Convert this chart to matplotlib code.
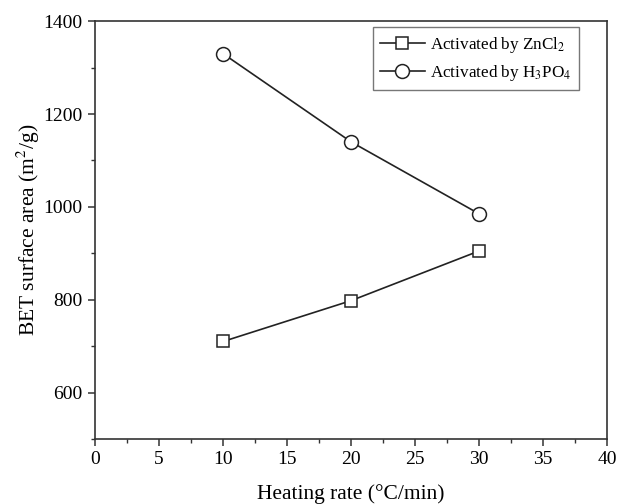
import matplotlib
matplotlib.use("Agg")
import matplotlib.pyplot as plt
from matplotlib.ticker import MultipleLocator

plt.rcParams['font.family'] = ['Liberation Serif', 'DejaVu Serif']
plt.rcParams['mathtext.fontset'] = 'stix'

heating_rate = [10, 20, 30]
zncl2 = [710, 798, 905]
h3po4 = [1330, 1140, 985]
labels = ['Activated by ZnCl$_2$', 'Activated by H$_3$PO$_4$']

fig = plt.figure(figsize=(6.17, 5.04), dpi=100)
ax = fig.add_axes([0.154, 0.129, 0.83, 0.829])

ax.plot(heating_rate, zncl2, color='#222222', lw=1.2, marker='s', ms=9,
        mfc='white', mec='#222222', mew=1.1, label=labels[0])
ax.plot(heating_rate, h3po4, color='#222222', lw=1.2, marker='o', ms=10,
        mfc='white', mec='#222222', mew=1.1, label=labels[1])

ax.set_xlim(0, 40)
ax.set_ylim(500, 1400)
ax.xaxis.set_major_locator(MultipleLocator(5))
ax.xaxis.set_minor_locator(MultipleLocator(2.5))
ax.yaxis.set_major_locator(MultipleLocator(200))
ax.yaxis.set_minor_locator(MultipleLocator(100))
ax.set_yticks([600, 800, 1000, 1200, 1400])

ax.tick_params(which='both', direction='out', top=False, right=False,
               labelsize=14, color='#333333')
ax.tick_params(which='major', length=5, width=1.1, pad=4)
ax.tick_params(which='minor', length=3, width=1.0)
for s in ax.spines.values():
    s.set_linewidth(1.2)
    s.set_color('#333333')

ax.set_xlabel('Heating rate (°C/min)', fontsize=15.5, labelpad=11)
ax.set_ylabel('BET surface area (m$^2$/g)', fontsize=15.5, labelpad=1)

leg = ax.legend(loc='upper right', bbox_to_anchor=(0.945, 0.985), fontsize=12.3,
                fancybox=False, edgecolor='#555555', handlelength=2.6,
                handletextpad=0.3, borderpad=0.45, labelspacing=0.45,
                borderaxespad=0.0)
leg.get_frame().set_linewidth(1.0)

fig.savefig('out.png', dpi=100)
